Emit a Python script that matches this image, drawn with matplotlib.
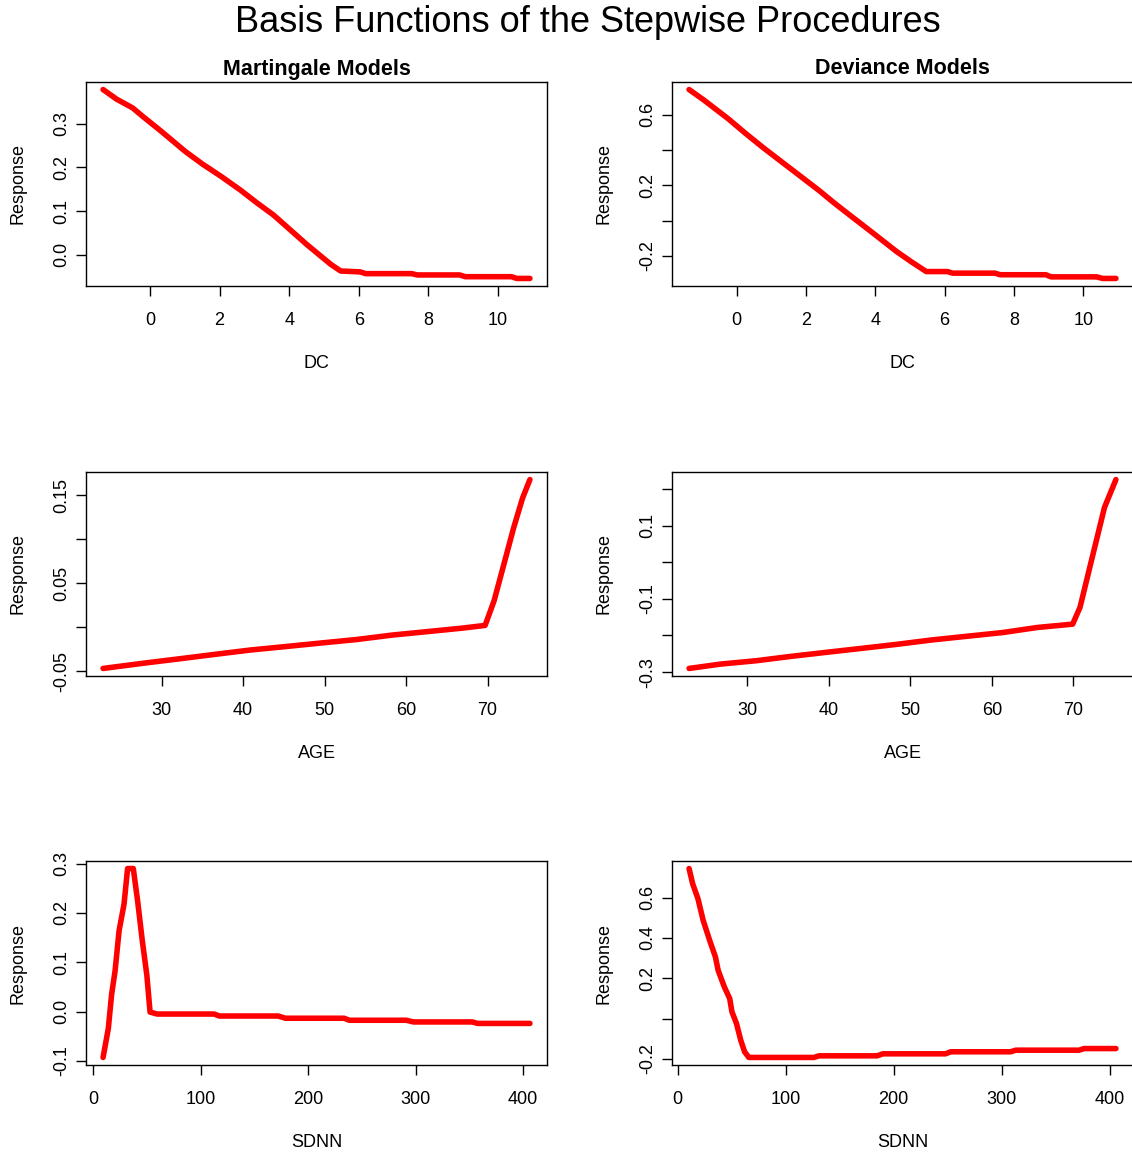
import matplotlib.pyplot as plt

plt.rcParams["font.family"] = ["Liberation Sans", "DejaVu Sans"]

TITLE = "Basis Functions of the Stepwise Procedures"
COLUMN_TITLES = ["Martingale Models", "Deviance Models"]
Y_LABEL = "Response"

# DC, martingale model
dc_mart_x = [-1.35, -0.96, -0.50, -0.20, 0.30, 1.02, 1.50, 2.05, 2.60, 3.07, 3.55, 3.99, 4.50,
             4.91, 5.20, 5.48, 6.04, 6.20, 7.52, 7.68, 8.90, 9.06, 10.39, 10.54, 10.92]
dc_mart_y = [0.378, 0.356, 0.336, 0.316, 0.284, 0.236, 0.208, 0.179, 0.148, 0.119, 0.091, 0.060, 0.024,
             -0.003, -0.022, -0.037, -0.039, -0.043, -0.043, -0.046, -0.046, -0.050, -0.050, -0.054, -0.054]

# DC, deviance model
dc_dev_x = [-1.37, -0.96, -0.25, 0.25, 0.76, 1.25, 1.77, 2.38, 2.80, 3.19, 3.60, 4.00,
            4.61, 5.05, 5.47, 6.08, 6.23, 7.45, 7.60, 8.92, 9.07, 10.38, 10.56, 10.94]
dc_dev_y = [0.742, 0.685, 0.578, 0.495, 0.414, 0.340, 0.262, 0.170, 0.102, 0.042, -0.020, -0.081,
            -0.175, -0.235, -0.289, -0.289, -0.298, -0.298, -0.307, -0.307, -0.319, -0.319, -0.328, -0.328]

# AGE, martingale model
age_mart_x = [22.8, 27.8, 32.2, 36.5, 40.9, 45.3, 49.6, 54.0, 58.3, 62.7, 67.0, 69.7,
              70.8, 71.9, 73.2, 74.3, 75.2]
age_mart_y = [-0.047, -0.041, -0.036, -0.031, -0.026, -0.022, -0.018, -0.014, -0.009, -0.005, -0.001, 0.002,
              0.030, 0.068, 0.113, 0.147, 0.168]

# AGE, deviance model
age_dev_x = [22.9, 26.8, 31.1, 35.4, 39.7, 44.1, 48.4, 52.7, 57.0, 61.3, 65.6, 69.9,
             70.8, 71.6, 72.7, 73.8, 75.2]
age_dev_y = [-0.290, -0.278, -0.269, -0.257, -0.246, -0.235, -0.224, -0.212, -0.202, -0.192, -0.178, -0.169,
             -0.123, -0.050, 0.050, 0.150, 0.226]

# SDNN, martingale model
sdnn_mart_x = [9.3, 14.2, 17.2, 20.5, 24.2, 28.8, 32.1, 37.4, 41.4, 45.7, 50.0, 53.0,
               59.6, 112.6, 117.5, 172.2, 178.8, 233.4, 238.4, 291.4, 298.0, 352.6, 357.6, 406.3]
sdnn_mart_y = [-0.093, -0.034, 0.034, 0.083, 0.164, 0.218, 0.290, 0.290, 0.225, 0.145, 0.074, -0.001,
               -0.005, -0.005, -0.009, -0.009, -0.0135, -0.0135, -0.0176, -0.0176, -0.021, -0.021, -0.024, -0.024]

# SDNN, deviance model
sdnn_dev_x = [10.7, 14.0, 18.9, 23.7, 30.2, 35.1, 37.6, 43.3, 48.3, 50.4, 54.6, 58.5, 62.1, 66.0,
              126.2, 131.1, 184.7, 190.2, 248.1, 253.0, 308.3, 313.2, 371.7, 376.6, 405.9]
sdnn_dev_y = [0.744, 0.669, 0.595, 0.488, 0.381, 0.306, 0.240, 0.158, 0.100, 0.034, -0.024, -0.106, -0.164, -0.192,
              -0.192, -0.184, -0.184, -0.174, -0.174, -0.164, -0.164, -0.156, -0.156, -0.148, -0.148]

# axis ticks (R leaves some labels out)
dc_xticks = [0, 2, 4, 6, 8, 10]
age_xticks = [30, 40, 50, 60, 70]
sdnn_xticks = [0, 100, 200, 300, 400]

dc_mart_yticks = [0.0, 0.1, 0.2, 0.3]
dc_mart_ylabels = ["0.0", "0.1", "0.2", "0.3"]
dc_dev_yticks = [-0.2, 0.0, 0.2, 0.4, 0.6]
dc_dev_ylabels = ["-0.2", "", "0.2", "", "0.6"]
age_mart_yticks = [-0.05, 0.0, 0.05, 0.10, 0.15]
age_mart_ylabels = ["-0.05", "", "0.05", "", "0.15"]
age_dev_yticks = [-0.3, -0.2, -0.1, 0.0, 0.1, 0.2]
age_dev_ylabels = ["-0.3", "", "-0.1", "", "0.1", ""]
sdnn_mart_yticks = [-0.1, 0.0, 0.1, 0.2, 0.3]
sdnn_mart_ylabels = ["-0.1", "0.0", "0.1", "0.2", "0.3"]
sdnn_dev_yticks = [-0.2, 0.0, 0.2, 0.4, 0.6]
sdnn_dev_ylabels = ["-0.2", "", "0.2", "0.4", "0.6"]

FIG_W, FIG_H = 1132, 1152
COL_LEFT = [86, 672]
ROW_TOP = [82, 472, 861]
BOX_W, BOX_H = 461, 204


def r_limits(values):
    lo, hi = min(values), max(values)
    pad = 0.04 * (hi - lo)
    return lo - pad, hi + pad


def draw_panel(ax, x, y, xticks, yticks, ylabels, xlabel):
    ax.plot(x, y, color="#ff0000", lw=4.0, solid_capstyle="round", solid_joinstyle="round")
    ax.set_xlim(*r_limits(x))
    ax.set_ylim(*r_limits(y))
    ax.set_xticks(xticks)
    ax.set_xticklabels([str(t) for t in xticks])
    ax.set_yticks(yticks)
    ax.set_yticklabels(ylabels, rotation=90, va="center")
    ax.tick_params(direction="out", length=7.5, width=1.0, labelsize=13)
    ax.tick_params(axis="x", pad=11)
    ax.tick_params(axis="y", pad=4)
    for spine in ax.spines.values():
        spine.set_linewidth(1.0)
    ax.set_xlabel(xlabel, fontsize=13)
    ax.xaxis.set_label_coords(0.5, -0.337)
    ax.set_ylabel(Y_LABEL, fontsize=13)
    ax.yaxis.set_label_coords(-0.13, 0.5)


fig = plt.figure(figsize=(FIG_W / 100, FIG_H / 100), dpi=100)

panels = [
    (0, 0, dc_mart_x, dc_mart_y, dc_xticks, dc_mart_yticks, dc_mart_ylabels, "DC"),
    (0, 1, dc_dev_x, dc_dev_y, dc_xticks, dc_dev_yticks, dc_dev_ylabels, "DC"),
    (1, 0, age_mart_x, age_mart_y, age_xticks, age_mart_yticks, age_mart_ylabels, "AGE"),
    (1, 1, age_dev_x, age_dev_y, age_xticks, age_dev_yticks, age_dev_ylabels, "AGE"),
    (2, 0, sdnn_mart_x, sdnn_mart_y, sdnn_xticks, sdnn_mart_yticks, sdnn_mart_ylabels, "SDNN"),
    (2, 1, sdnn_dev_x, sdnn_dev_y, sdnn_xticks, sdnn_dev_yticks, sdnn_dev_ylabels, "SDNN"),
]

for row, col, x, y, xticks, yticks, ylabels, xlabel in panels:
    rect = [
        COL_LEFT[col] / FIG_W,
        1 - (ROW_TOP[row] + BOX_H) / FIG_H,
        BOX_W / FIG_W,
        BOX_H / FIG_H,
    ]
    ax = fig.add_axes(rect)
    draw_panel(ax, x, y, xticks, yticks, ylabels, xlabel)
    if row == 0:
        ax.text(0.5, 1 + 13 / BOX_H, COLUMN_TITLES[col], transform=ax.transAxes,
                ha="center", va="center", fontsize=15.5, fontweight="bold")

fig.text(588 / FIG_W, 1 - 22 / FIG_H, TITLE, ha="center", va="center", fontsize=26)

fig.savefig("out.png", dpi=100)
